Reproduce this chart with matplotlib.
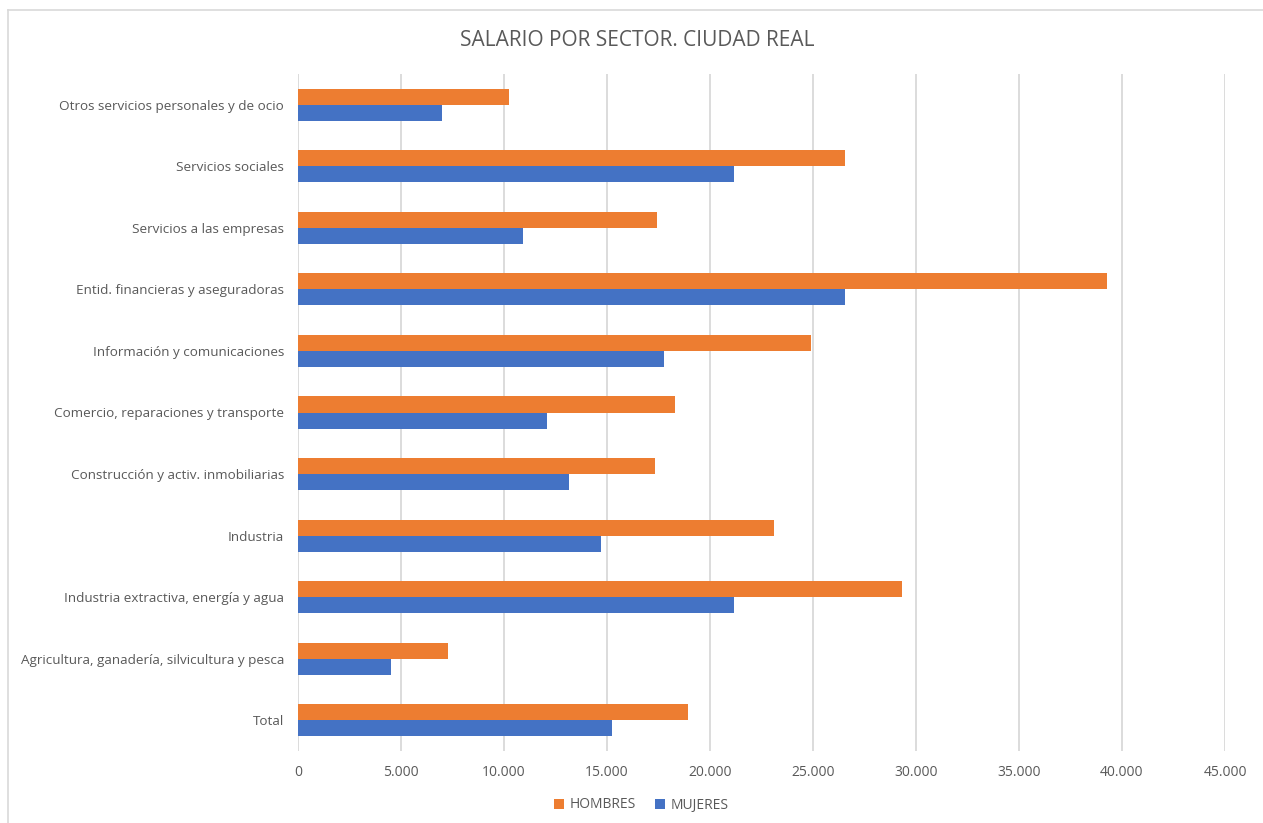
import matplotlib.pyplot as plt
import numpy as np
from matplotlib.lines import Line2D
from matplotlib.ticker import FuncFormatter

plt.rcParams['font.family'] = ['Open Sans', 'DejaVu Sans']

# sectores, de abajo arriba
sectores = [
    "Total",
    "Agricultura, ganadería, silvicultura y pesca",
    "Industria extractiva, energía y agua",
    "Industria",
    "Construcción y activ. inmobiliarias",
    "Comercio, reparaciones y transporte",
    "Información y comunicaciones",
    "Entid. financieras y aseguradoras",
    "Servicios a las empresas",
    "Servicios sociales",
    "Otros servicios personales y de ocio",
]
hombres = [18915, 7280, 29300, 23100, 17350, 18320, 24900, 39270, 17410, 26550, 10240]
mujeres = [15240, 4515, 21170, 14710, 13140, 12065, 17760, 26565, 10905, 21165, 6980]

gris = '#595959'
naranja = '#ED7D31'
azul = '#4472C4'

fig = plt.figure(figsize=(12.63, 8.23), dpi=100)
ax = fig.add_axes([298/1263, 1 - 751/823, 927/1263, 677/823])

y = np.arange(len(sectores))
h = 0.26
ax.barh(y + h/2, hombres, height=h, color=naranja, label='HOMBRES', zorder=3)
ax.barh(y - h/2, mujeres, height=h, color=azul, label='MUJERES', zorder=3)

ax.set_xlim(0, 45000)
ax.set_ylim(-0.5, len(sectores) - 0.5)
ax.set_xticks(np.arange(0, 45001, 5000))
ax.xaxis.set_major_formatter(FuncFormatter(lambda v, p: f'{int(v):,}'.replace(',', '.')))
ax.set_yticks(y)
ax.set_yticklabels(sectores)
ax.tick_params(axis='both', length=0, colors=gris)
ax.tick_params(axis='x', pad=10, labelsize=10)
ax.tick_params(axis='y', pad=10, labelsize=9.7)
ax.grid(axis='x', color='#D9D9D9', linewidth=1.3, zorder=0)
for s in ax.spines.values():
    s.set_visible(False)

fig.text(637/1263, 1 - 40/823, 'SALARIO POR SECTOR. CIUDAD REAL', ha='center', va='center',
         fontsize=15, color=gris)

fig.legend(loc='center', bbox_to_anchor=(641/1263, 1 - 805/823), ncol=2, frameon=False,
           handlelength=0.7, handleheight=0.7, handletextpad=0.4, columnspacing=1.4,
           fontsize=10, labelcolor=gris)

# marco del gráfico (solo borde superior e izquierdo)
fig.add_artist(Line2D([8/1263, 1], [1 - 10/823, 1 - 10/823], transform=fig.transFigure,
                      color='#D9D9D9', linewidth=1.2))
fig.add_artist(Line2D([8/1263, 8/1263], [0, 1 - 10/823], transform=fig.transFigure,
                      color='#D9D9D9', linewidth=1.2))

fig.savefig('out.png', dpi=100)
